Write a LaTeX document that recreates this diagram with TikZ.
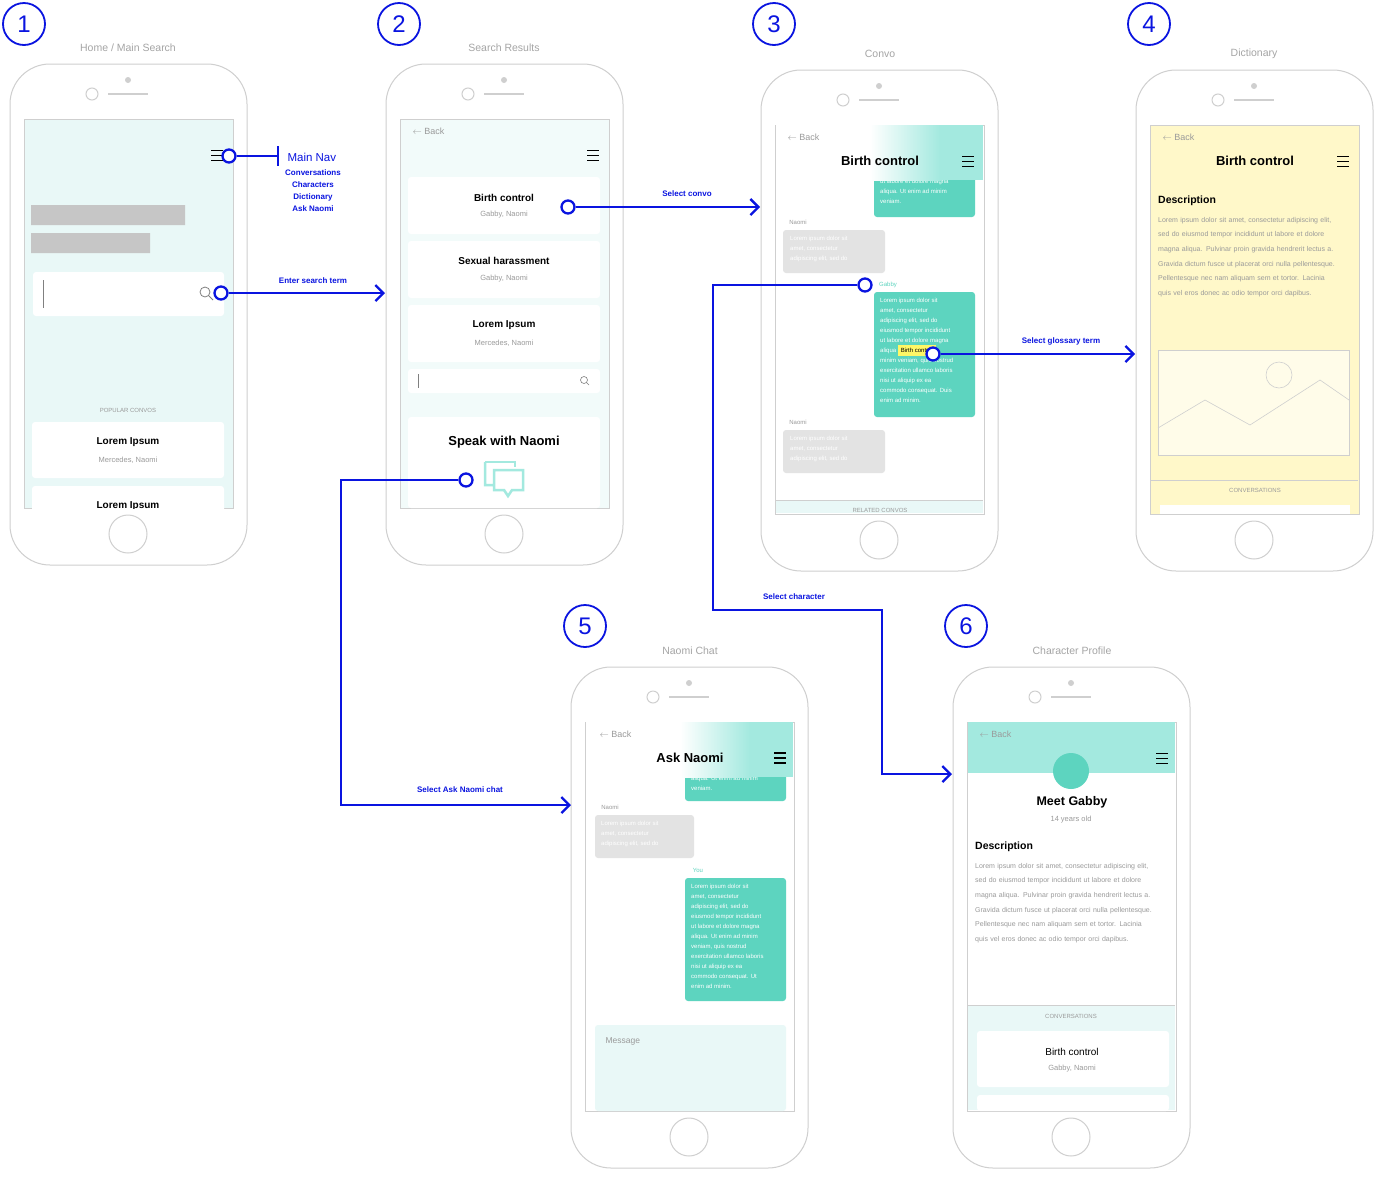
\documentclass[tikz,border=0pt]{standalone}
\usepackage{fontspec}
\setmainfont{Liberation Sans}
\usetikzlibrary{arrows.meta}
\definecolor{fl}{HTML}{0A14E0}
\definecolor{frame}{HTML}{CFCFCF}
\definecolor{lcyan}{HTML}{E9F8F7}
\definecolor{teal}{HTML}{5DD4BF}
\definecolor{tealh}{HTML}{A3E9DF}
\definecolor{yel}{HTML}{FFF8C9}
\definecolor{gtx}{HTML}{9A9A9A}
\tikzset{
 flow/.style={draw=fl,line width=2.3pt},
 arr/.style={flow,-{Straight Barb[length=8pt,width=16pt,line width=2.3pt]}},
 dotc/.style={circle,draw=fl,line width=2.3pt,fill=white,minimum size=13pt,inner sep=0pt},
 numc/.style={circle,draw=fl,line width=1.8pt,minimum size=42pt,inner sep=0pt,text=fl,font=\fontsize{24}{24}\selectfont},
 flab/.style={text=fl,font=\fontsize{8}{9}\selectfont\bfseries},
 ttl/.style={text=frame!80!black,font=\fontsize{10.5}{11}\selectfont},
 card/.style={fill=white,rounded corners=3pt},
 hd/.style={font=\fontsize{11}{12}\selectfont\bfseries},
 sub/.style={text=gtx,font=\fontsize{7.5}{8}\selectfont},
 tiny/.style={text=gtx,font=\fontsize{6}{7}\selectfont},
 para/.style={text=gtx,font=\fontsize{7}{14.6}\selectfont,align=left,anchor=north west,inner sep=0pt},
 bub/.style={text=white,font=\fontsize{6}{10}\selectfont,align=left,anchor=north west,inner sep=0pt},
}
\newcommand\phoneframe[3]{% x y screen fill
 \begin{scope}[shift={(#1,#2)}]
  \draw[frame,line width=1pt,rounded corners=40pt] (0,0) rectangle (237,501);
  \fill[frame] (118,16) circle (3);
  \draw[frame,line width=1pt] (82,30) circle (6);
  \draw[frame,line width=2.5pt] (98,30) -- (138,30);
  \draw[frame,line width=1pt,fill=#3] (14,55) rectangle (223,444);
  \draw[frame,line width=1pt] (118,470) circle (19);
 \end{scope}}
\newcommand\burger[3][0.8pt]{\draw[black,line width=#1] (#2-6,#3-5)--(#2+6,#3-5) (#2-6,#3)--(#2+6,#3) (#2-6,#3+5)--(#2+6,#3+5);}
\newcommand\back[2]{\node[sub,font=\fontsize{9}{9}\selectfont,anchor=west] at (#1,#2) {$\leftarrow$ Back};}
\begin{document}
\begin{tikzpicture}[x=1pt,y=-1pt]
\useasboundingbox (0,0) rectangle (1374,1176);
\fill[white] (0,0) rectangle (1374,1176);
% frames
\phoneframe{10}{64}{lcyan}
\phoneframe{386}{64}{lcyan!60!white}
\phoneframe{761}{70}{white}
\phoneframe{1136}{70}{yel}
\phoneframe{571}{667}{white}
\phoneframe{953}{667}{white}
% numbers & titles
\node[numc] (n1) at (24,24) {1};
\node[numc] (n2) at (399,24) {2};
\node[numc] (n3) at (774,24) {3};
\node[numc] (n4) at (1149,24) {4};
\node[numc] (n5) at (585,626) {5};
\node[numc] (n6) at (966,626) {6};
\node[ttl] (t1) at (128,48) {Home / Main Search};
\node[ttl] (t2) at (504,48) {Search Results};
\node[ttl] (t3) at (880,54) {Convo};
\node[ttl] (t4) at (1254,54) {Dictionary};
\node[ttl] (t5) at (690,651) {Naomi Chat};
\node[ttl] (t6) at (1072,651) {Character Profile};
% ---------- screen 1
\burger{217}{155}
\fill[gray!45] (31,205) rectangle (185,225) (31,233) rectangle (150,253);
\fill[card] (33,272) rectangle (224,316);
\draw[gray] (43,280)--(43,308);
\draw[gray,line width=0.8pt] (205,292) circle (5) (209,296)--(213,300);
\node[tiny] (pc) at (128,410) {POPULAR CONVOS};
\fill[card] (32,422) rectangle (224,478);
\node[hd,font=\fontsize{10}{10}\selectfont\bfseries] at (128,442) {Lorem Ipsum};
\node[sub] at (128,460) {Mercedes, Naomi};
\begin{scope}
\clip (24,486) rectangle (233,508);
\fill[card] (32,486) rectangle (224,530);
\node[hd,font=\fontsize{10}{10}\selectfont\bfseries] at (128,506) {Lorem Ipsum};
\end{scope}
% ---------- screen 2
\back{409}{131}
\burger{593}{155}
\fill[card] (408,177) rectangle (600,234);
\node[hd,font=\fontsize{10}{10}\selectfont\bfseries] at (504,198) {Birth control};
\node[sub] at (504,215) {Gabby, Naomi};
\fill[card] (408,241) rectangle (600,298);
\node[hd,font=\fontsize{10}{10}\selectfont\bfseries] at (504,261) {Sexual harassment};
\node[sub] at (504,279) {Gabby, Naomi};
\fill[card] (408,305) rectangle (600,362);
\node[hd,font=\fontsize{10}{10}\selectfont\bfseries] at (504,325) {Lorem Ipsum};
\node[sub] at (504,343) {Mercedes, Naomi};
\fill[card] (408,369) rectangle (600,393);
\draw[gray] (418,374)--(418,388);
\draw[gray,line width=0.6pt] (584,380) circle (3.5) (586.5,382.5)--(589,385);
\fill[card] (408,417) rectangle (600,508);
\node[hd,font=\fontsize{13}{13}\selectfont\bfseries] at (504,442) {Speak with Naomi};
\draw[tealh,line width=2.5pt] (485,462)--(485,485)--(495,485) (494,470)--(523,470)--(523,490)--(512,490)--(508,496)--(504,490)--(494,490)--cycle;
\draw[tealh,line width=2.5pt] (485,462)--(515,462)--(515,467);
% ---------- screen 3
\fill[teal,rounded corners=3pt] (874,165) rectangle (975,217);
\node[bub] at (880,179) {ut labore et dolore magna\\aliqua. Ut enim ad minim\\veniam.};
\fill[white] (776,125) rectangle (870,180);
\shade[left color=white,right color=tealh] (870,125) rectangle (940,180);
\fill[tealh] (940,125) rectangle (983,180);
\back{784}{137}
\node[hd,font=\fontsize{13}{13}\selectfont\bfseries] at (880,161) {Birth control};
\burger{968}{161}
\node[tiny] at (798,222) {Naomi};
\fill[gray!22,rounded corners=3pt] (783,230) rectangle (885,273);
\node[bub] at (790,236) {Lorem ipsum dolor sit\\amet, consectetur\\adipiscing elit, sed do};
\node[tiny,text=teal] at (888,285) {Gabby};
\fill[teal,rounded corners=3pt] (874,292) rectangle (975,417);
\node[bub] at (880,298) {Lorem ipsum dolor sit\\amet, consectetur\\adipiscing elit, sed do\\eiusmod tempor incididunt\\ut labore et dolore magna\\aliqua \colorbox{yellow!60}{\color{black}\rule{0pt}{4pt}Birth control}\\minim veniam, quis nostrud\\exercitation ullamco laboris\\nisi ut aliquip ex ea\\commodo consequat. Duis\\enim ad minim.};
\node[tiny] at (798,422) {Naomi};
\fill[gray!22,rounded corners=3pt] (783,430) rectangle (885,473);
\node[bub] at (790,436) {Lorem ipsum dolor sit\\amet, consectetur\\adipiscing elit, sed do};
\fill[lcyan] (776,500) rectangle (983,513);
\draw[frame] (776,500)--(983,500);
\node[tiny] at (880,510) {RELATED CONVOS};
% ---------- screen 4
\back{1159}{137}
\node[hd,font=\fontsize{13}{13}\selectfont\bfseries] at (1255,161) {Birth control};
\burger{1343}{161}
\node[hd,font=\fontsize{10.5}{11}\selectfont\bfseries,anchor=west,inner sep=0pt] at (1158,201) {Description};
\node[para,text width=180pt] at (1158,217) {Lorem ipsum dolor sit amet, consectetur adipiscing elit, sed do eiusmod tempor incididunt ut labore et dolore magna aliqua. Pulvinar proin gravida hendrerit lectus a. Gravida dictum fusce ut placerat orci nulla pellentesque. Pellentesque nec nam aliquam sem et tortor. Lacinia quis vel eros donec ac odio tempor orci dapibus.};
\fill[white!60!yel] (1158,350) rectangle (1349,455);
\draw[frame,line width=0.6pt] (1158,350) rectangle (1349,455);
\draw[frame,line width=0.6pt] (1279,375) circle (13);
\draw[frame,line width=0.6pt] (1158,428)--(1205,400)--(1250,425)--(1320,380)--(1349,400);
\draw[frame] (1151,480)--(1358,480);
\node[tiny] at (1255,490) {CONVERSATIONS};
\fill[white] (1160,505) rectangle (1350,514);
% ---------- screen 5
\fill[teal,rounded corners=3pt] (685,765) rectangle (786,801);
\node[bub] at (691,776) {aliqua. Ut enim ad minim\\veniam.};
\fill[white] (586,722) rectangle (680,777);
\shade[left color=white,right color=tealh] (680,722) rectangle (750,777);
\fill[tealh] (750,722) rectangle (793,777);
\back{596}{734}
\node[hd,font=\fontsize{13}{13}\selectfont\bfseries] at (690,758) {Ask Naomi};
\burger[1.6pt]{780}{758}
\node[tiny] at (610,807) {Naomi};
\fill[gray!22,rounded corners=3pt] (595,815) rectangle (694,858);
\node[bub] at (601,821) {Lorem ipsum dolor sit\\amet, consectetur\\adipiscing elit, sed do};
\node[tiny,text=teal] at (698,870) {You};
\fill[teal,rounded corners=3pt] (685,878) rectangle (786,1001);
\node[bub] at (691,884) {Lorem ipsum dolor sit\\amet, consectetur\\adipiscing elit, sed do\\eiusmod tempor incididunt\\ut labore et dolore magna\\aliqua. Ut enim ad minim\\veniam, quis nostrud\\exercitation ullamco laboris\\nisi ut aliquip ex ea\\commodo consequat. Ut\\enim ad minim.};
\fill[lcyan,rounded corners=3pt] (595,1025) rectangle (786,1111);
\node[sub,anchor=west,font=\fontsize{8.5}{9}\selectfont] at (602,1041) {Message};
% ---------- screen 6
\fill[tealh] (968,722) rectangle (1175,773);
\back{976}{734}
\burger{1162}{758}
\fill[teal] (1071,771) circle (18);
\node[hd,font=\fontsize{12.5}{13}\selectfont\bfseries] at (1072,802) {Meet Gabby};
\node[sub] at (1071,820) {14 years old};
\node[hd,font=\fontsize{10.5}{11}\selectfont\bfseries,anchor=west,inner sep=0pt] at (975,847) {Description};
\node[para,text width=180pt] at (975,863) {Lorem ipsum dolor sit amet, consectetur adipiscing elit, sed do eiusmod tempor incididunt ut labore et dolore magna aliqua. Pulvinar proin gravida hendrerit lectus a. Gravida dictum fusce ut placerat orci nulla pellentesque. Pellentesque nec nam aliquam sem et tortor. Lacinia quis vel eros donec ac odio tempor orci dapibus.};
\fill[lcyan] (968,1005) rectangle (1175,1110);
\draw[frame] (968,1005)--(1175,1005);
\node[tiny] at (1071,1016) {CONVERSATIONS};
\fill[card] (977,1031) rectangle (1169,1087);
\node[font=\fontsize{10}{10}\selectfont] at (1072,1052) {Birth control};
\node[sub] at (1072,1069) {Gabby, Naomi};
\fill[card] (977,1095) rectangle (1169,1111);
% ---------- connectors
\coordinate (navend) at (278,156);
\node[dotc] (c1) at (229,156) {};
\draw[flow] (c1) -- (navend);
\draw[flow] (278,146) -- (278,166);
\node[text=fl,font=\fontsize{11.5}{12}\selectfont,anchor=west] (mn) at (284,157) {Main Nav};
\node[text=fl,font=\fontsize{8}{12}\selectfont\bfseries,align=center,anchor=north] (mnl) at (313,166) {Conversations\\Characters\\Dictionary\\Ask Naomi};
\node[dotc] (c2) at (221,293) {};
\coordinate (e2) at (385,293);
\draw[arr] (c2) -- (e2);
\node[flab] at (313,281) {Enter search term};
\node[dotc] (c3) at (568,207) {};
\coordinate (e3) at (760,207);
\draw[arr] (c3) -- (e3);
\node[flab] at (687,194) {Select convo};
\node[dotc] (c4) at (466,480) {};
\coordinate (e4) at (571,805);
\draw[arr] (c4) -- (341,480) -- (341,805) -- (e4);
\node[flab] at (460,790) {Select Ask Naomi chat};
\node[dotc] (c5) at (865,285) {};
\coordinate (e5) at (952,774);
\draw[arr] (c5) -- (713,285) -- (713,610) -- (882,610) -- (882,774) -- (e5);
\node[flab] at (794,597) {Select character};
\node[dotc] (c6) at (933,354) {};
\coordinate (e6) at (1135,354);
\draw[arr] (c6) -- (e6);
\node[flab] at (1061,341) {Select glossary term};
\end{tikzpicture}
\end{document}
